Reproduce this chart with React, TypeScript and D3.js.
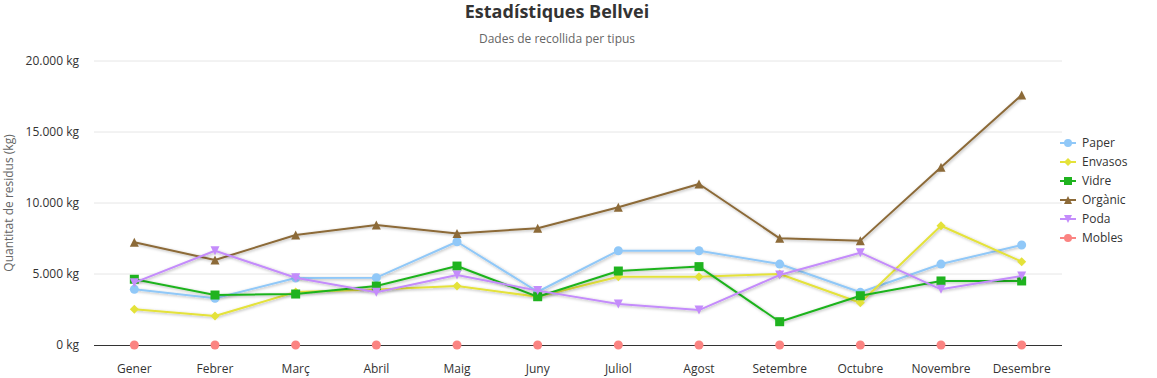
import React from "react";
import * as d3 from "d3";

const months = ["Gener", "Febrer", "Març", "Abril", "Maig", "Juny", "Juliol", "Agost", "Setembre", "Octubre", "Novembre", "Desembre"];
const paper = [3920, 3290, 4720, 4740, 7270, 3750, 6640, 6640, 5700, 3710, 5700, 7040];
const envasos = [2510, 2040, 3730, 3900, 4150, 3400, 4810, 4810, 5000, 2980, 8400, 5870];
const vidre = [4630, 3520, 3590, 4150, 5560, 3400, 5210, 5520, 1640, 3470, 4510, 4510];
const organic = [7230, 5990, 7750, 8450, 7860, 8220, 9700, 11340, 7510, 7350, 12510, 17600];
const poda = [4390, 6640, 4740, 3710, 4930, 3830, 2890, 2460, 4930, 6500, 3920, 4860];
const mobles = [0, 0, 0, 0, 0, 0, 0, 0, 0, 0, 0, 0];
const yTicks = [0, 5000, 10000, 15000, 20000];

const seriesNames = ["Paper", "Envasos", "Vidre", "Orgànic", "Poda", "Mobles"];
const seriesData = [paper, envasos, vidre, organic, poda, mobles];
const seriesColors = ["#90c8f8", "#e4e23a", "#1fb31f", "#8c6a38", "#c48cfb", "#fb8482"];
const seriesSymbols = ["circle", "diamond", "square", "triangle", "triangle-down", "circle"];

const W = 1157, H = 378;
const left = 94, right = 1062, top = 61, bottom = 345;
const font = "'Open Sans', 'Noto Sans', sans-serif";

function symbolPath(kind: string, cx: number, cy: number, r: number) {
  switch (kind) {
    case "circle":
      return `M${cx - r},${cy} a${r},${r} 0 1,0 ${2 * r},0 a${r},${r} 0 1,0 ${-2 * r},0 Z`;
    case "diamond":
      return `M${cx},${cy - r} L${cx + r},${cy} L${cx},${cy + r} L${cx - r},${cy} Z`;
    case "square":
      return `M${cx - r},${cy - r} L${cx + r},${cy - r} L${cx + r},${cy + r} L${cx - r},${cy + r} Z`;
    case "triangle":
      return `M${cx},${cy - r} L${cx + r},${cy + r} L${cx - r},${cy + r} Z`;
    case "triangle-down":
      return `M${cx - r},${cy - r} L${cx + r},${cy - r} L${cx},${cy + r} Z`;
  }
  return "";
}

export default function App() {
  const x = d3.scaleBand<string>().domain(months).range([left, right]);
  const y = d3.scaleLinear().domain([0, 20000]).range([bottom, top]);
  const cx = (m: string) => (x(m) as number) + x.bandwidth() / 2;
  const fmt = (v: number) => (v === 0 ? "0 kg" : d3.format(",")(v).replace(/,/g, ".") + " kg");

  return (
    <svg width={W} height={H} style={{ display: "block", position: "absolute", left: 0, top: 0, fontFamily: font }}>
      <defs>
        <filter id="sh" x="-5%" y="-20%" width="110%" height="140%">
          <feDropShadow dx="1" dy="1" stdDeviation="1.5" floodColor="#000" floodOpacity="0.3" />
        </filter>
      </defs>
      <rect width={W} height={H} fill="#fff" />
      <text x={557} y={18} textAnchor="middle" fontSize={18} fontWeight="bold" fill="#333">Estadístiques Bellvei</text>
      <text x={557} y={43} textAnchor="middle" fontSize={12} fill="#666">Dades de recollida per tipus</text>
      {yTicks.map((t) => (
        <g key={t}>
          {t > 0 && <line x1={left} x2={right} y1={y(t)} y2={y(t)} stroke="#e6e6e6" strokeWidth={1} />}
          <text x={79} y={y(t) + 4} textAnchor="end" fontSize={12} fill="#333">{fmt(t)}</text>
        </g>
      ))}
      <text transform={`translate(13,${(top + bottom) / 2}) rotate(-90)`} textAnchor="middle" fontSize={12} fill="#666">Quantitat de residus (kg)</text>
      <line x1={left} x2={right} y1={bottom + 0.5} y2={bottom + 0.5} stroke="#333" strokeWidth={1} />
      {months.map((m) => (
        <text key={m} x={cx(m)} y={373} textAnchor="middle" fontSize={12} fill="#333">{m}</text>
      ))}
      {seriesData.map((vals, i) => {
        const line = d3.line<number>().x((_, j) => cx(months[j])).y((v) => y(v));
        return (
          <g key={seriesNames[i]}>
            <path d={line(vals) || ""} fill="none" stroke={seriesColors[i]} strokeWidth={2} filter="url(#sh)" strokeLinejoin="round" />
            {vals.map((v, j) => (
              <path key={j} d={symbolPath(seriesSymbols[i], cx(months[j]), y(v), 4.5)} fill={seriesColors[i]} />
            ))}
          </g>
        );
      })}
      {seriesNames.map((n, i) => {
        const ly = 143 + i * 19;
        return (
          <g key={n}>
            <line x1={1060} x2={1076} y1={ly} y2={ly} stroke={seriesColors[i]} strokeWidth={2} />
            <path d={symbolPath(seriesSymbols[i], 1068, ly, 4)} fill={seriesColors[i]} />
            <text x={1082} y={ly + 4} fontSize={12} fill="#333">{n}</text>
          </g>
        );
      })}
    </svg>
  );
}
